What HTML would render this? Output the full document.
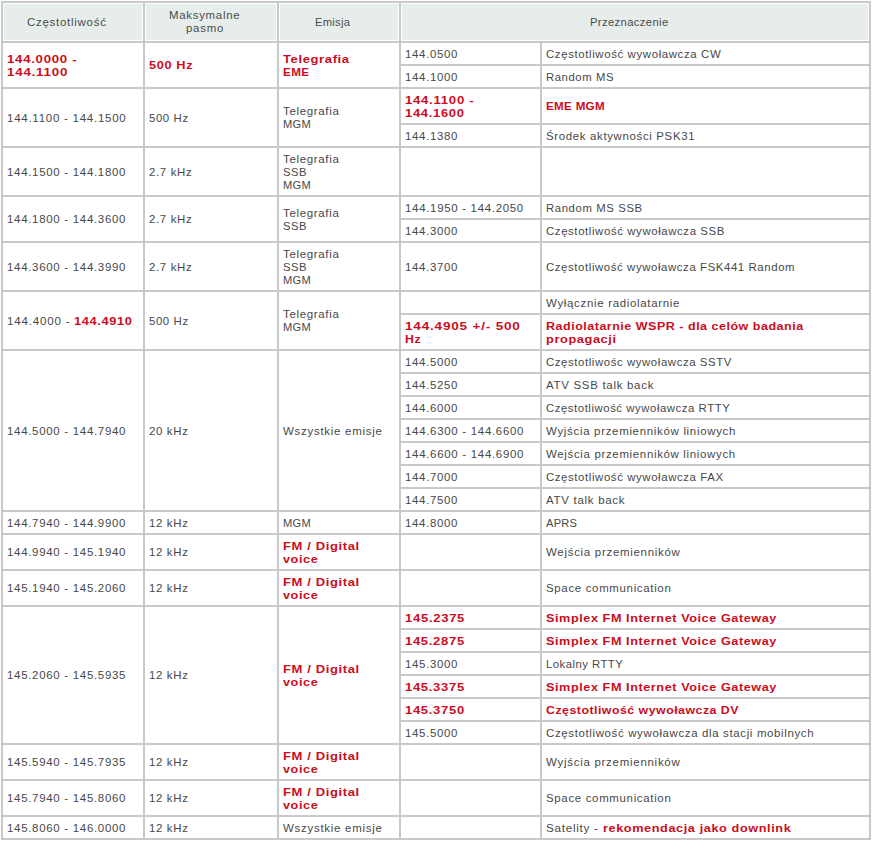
<!DOCTYPE html><html><head><meta charset="utf-8"><style>
html,body{margin:0;padding:0;background:#fff}
body{width:872px;height:841px;position:relative;overflow:hidden;font-family:"Liberation Sans",sans-serif;font-size:11px;line-height:13px;color:#484848}
.b{position:absolute;box-sizing:border-box;border:1px solid #c9c9c9}
.c{position:absolute;box-sizing:border-box;border:1px solid #c9c9c9;display:flex;flex-direction:column;justify-content:center;padding-left:4px}
.hd{position:absolute;box-sizing:border-box;border:1px solid #c9c9c9;background:#e6edeb;box-shadow:inset 0 0 0 1px #fff;display:flex;flex-direction:column;justify-content:center;align-items:center;padding-right:12px;color:#484d4d;font-size:11px}
.l{white-space:pre;height:13px;position:relative;top:0.5px}
.o{display:inline-block;white-space:pre}
.s{display:inline-block;transform-origin:0 0}
.r{color:#cc0c20;font-weight:bold;font-size:11px}
</style></head><body>
<div class="b" style="left:1px;top:1px;width:870px;height:839px"></div>

<div class="hd" style="left:2px;top:2px;width:142px;height:40px;padding-bottom:0px"><div class="l lc"><span class="o" style="width:79.69px"><span class="s" style="transform:scaleX(1.0462);letter-spacing:0.686px">Częstotliwość</span></span></div></div>
<div class="hd" style="left:144px;top:2px;width:134px;height:40px;padding-bottom:2px"><div class="l lc"><span class="o" style="width:71.29px"><span class="s" style="transform:scaleX(1.0386);letter-spacing:0.689px">Maksymalne</span></span></div><div class="l lc"><span class="o" style="width:38.01px"><span class="s" style="transform:scaleX(1.0377);letter-spacing:0.720px">pasmo</span></span></div></div>
<div class="hd" style="left:278px;top:2px;width:122px;height:40px;padding-bottom:0px"><div class="l lc"><span class="o" style="width:35.22px"><span class="s" style="transform:scaleX(1.0167);letter-spacing:0.271px">Emisja</span></span></div></div>
<div class="hd" style="left:400px;top:2px;width:470px;height:40px;padding-bottom:0px"><div class="l lc"><span class="o" style="width:78.55px"><span class="s" style="transform:scaleX(1.0222);letter-spacing:0.361px">Przeznaczenie</span></span></div></div>
<div class="c" style="left:2px;top:42px;width:142px;height:46px"><div class="l"><span class="o r" style="width:70.33px"><span class="s" style="transform:scaleX(1.2020);letter-spacing:0.590px">144.0000 -</span></span></div><div class="l"><span class="o r" style="width:61.11px"><span class="s" style="transform:scaleX(1.2097);letter-spacing:0.654px">144.1100</span></span></div></div>
<div class="c" style="left:144px;top:42px;width:134px;height:46px"><div class="l"><span class="o r" style="width:44.18px"><span class="s" style="transform:scaleX(1.1604);letter-spacing:0.536px">500 Hz</span></span></div></div>
<div class="c" style="left:278px;top:42px;width:122px;height:46px"><div class="l"><span class="o r" style="width:66.71px"><span class="s" style="transform:scaleX(1.1824);letter-spacing:0.526px">Telegrafia</span></span></div><div class="l"><span class="o r" style="width:26.36px"><span class="s" style="transform:scaleX(1.0634);letter-spacing:0.316px">EME</span></span></div></div>
<div class="c" style="left:400px;top:42px;width:141px;height:23px"><div class="l"><span class="o" style="width:53.17px"><span class="s" style="transform:scaleX(1.0396);letter-spacing:0.656px">144.0500</span></span></div></div>
<div class="c" style="left:541px;top:42px;width:329px;height:23px"><div class="l"><span class="o" style="width:175.29px"><span class="s" style="transform:scaleX(1.0368);letter-spacing:0.602px">Częstotliwość wywoławcza CW</span></span></div></div>
<div class="c" style="left:400px;top:65px;width:141px;height:23px"><div class="l"><span class="o" style="width:53.17px"><span class="s" style="transform:scaleX(1.0396);letter-spacing:0.656px">144.1000</span></span></div></div>
<div class="c" style="left:541px;top:65px;width:329px;height:23px"><div class="l"><span class="o" style="width:68.00px"><span class="s" style="transform:scaleX(1.0280);letter-spacing:0.556px">Random MS</span></span></div></div>
<div class="c" style="left:2px;top:88px;width:142px;height:59px"><div class="l"><span class="o" style="width:119.45px"><span class="s" style="transform:scaleX(1.0465);letter-spacing:0.707px">144.1100 - 144.1500</span></span></div></div>
<div class="c" style="left:144px;top:88px;width:134px;height:59px"><div class="l"><span class="o" style="width:39.69px"><span class="s" style="transform:scaleX(1.0346);letter-spacing:0.583px">500 Hz</span></span></div></div>
<div class="c" style="left:278px;top:88px;width:122px;height:59px"><div class="l"><span class="o" style="width:56.45px"><span class="s" style="transform:scaleX(1.0458);letter-spacing:0.627px">Telegrafia</span></span></div><div class="l"><span class="o" style="width:27.92px"><span class="s" style="transform:scaleX(1.0095);letter-spacing:0.254px">MGM</span></span></div></div>
<div class="c" style="left:400px;top:88px;width:141px;height:36px"><div class="l"><span class="o r" style="width:69.38px"><span class="s" style="transform:scaleX(1.2006);letter-spacing:0.579px">144.1100 -</span></span></div><div class="l"><span class="o r" style="width:59.67px"><span class="s" style="transform:scaleX(1.1801);letter-spacing:0.584px">144.1600</span></span></div></div>
<div class="c" style="left:541px;top:88px;width:329px;height:36px"><div class="l"><span class="o r" style="width:58.96px"><span class="s" style="transform:scaleX(1.0577);letter-spacing:0.280px">EME MGM</span></span></div></div>
<div class="c" style="left:400px;top:124px;width:141px;height:23px"><div class="l"><span class="o" style="width:53.17px"><span class="s" style="transform:scaleX(1.0396);letter-spacing:0.656px">144.1380</span></span></div></div>
<div class="c" style="left:541px;top:124px;width:329px;height:23px"><div class="l"><span class="o" style="width:149.23px"><span class="s" style="transform:scaleX(1.0392);letter-spacing:0.634px">Środek aktywności PSK31</span></span></div></div>
<div class="c" style="left:2px;top:147px;width:142px;height:49px"><div class="l"><span class="o" style="width:119.18px"><span class="s" style="transform:scaleX(1.0434);letter-spacing:0.667px">144.1500 - 144.1800</span></span></div></div>
<div class="c" style="left:144px;top:147px;width:134px;height:49px"><div class="l"><span class="o" style="width:43.37px"><span class="s" style="transform:scaleX(1.0407);letter-spacing:0.625px">2.7 kHz</span></span></div></div>
<div class="c" style="left:278px;top:147px;width:122px;height:49px"><div class="l"><span class="o" style="width:56.45px"><span class="s" style="transform:scaleX(1.0458);letter-spacing:0.627px">Telegrafia</span></span></div><div class="l"><span class="o" style="width:24.00px"><span class="s" style="transform:scaleX(1.0226);letter-spacing:0.486px">SSB</span></span></div><div class="l"><span class="o" style="width:27.92px"><span class="s" style="transform:scaleX(1.0095);letter-spacing:0.254px">MGM</span></span></div></div>
<div class="c" style="left:400px;top:147px;width:141px;height:49px"></div>
<div class="c" style="left:541px;top:147px;width:329px;height:49px"></div>
<div class="c" style="left:2px;top:196px;width:142px;height:46px"><div class="l"><span class="o" style="width:119.18px"><span class="s" style="transform:scaleX(1.0434);letter-spacing:0.667px">144.1800 - 144.3600</span></span></div></div>
<div class="c" style="left:144px;top:196px;width:134px;height:46px"><div class="l"><span class="o" style="width:43.37px"><span class="s" style="transform:scaleX(1.0407);letter-spacing:0.625px">2.7 kHz</span></span></div></div>
<div class="c" style="left:278px;top:196px;width:122px;height:46px"><div class="l"><span class="o" style="width:56.45px"><span class="s" style="transform:scaleX(1.0458);letter-spacing:0.627px">Telegrafia</span></span></div><div class="l"><span class="o" style="width:24.00px"><span class="s" style="transform:scaleX(1.0226);letter-spacing:0.486px">SSB</span></span></div></div>
<div class="c" style="left:400px;top:196px;width:141px;height:23px"><div class="l"><span class="o" style="width:118.91px"><span class="s" style="transform:scaleX(1.0427);letter-spacing:0.657px">144.1950 - 144.2050</span></span></div></div>
<div class="c" style="left:541px;top:196px;width:329px;height:23px"><div class="l"><span class="o" style="width:96.75px"><span class="s" style="transform:scaleX(1.0306);letter-spacing:0.590px">Random MS SSB</span></span></div></div>
<div class="c" style="left:400px;top:219px;width:141px;height:23px"><div class="l"><span class="o" style="width:53.17px"><span class="s" style="transform:scaleX(1.0396);letter-spacing:0.656px">144.3000</span></span></div></div>
<div class="c" style="left:541px;top:219px;width:329px;height:23px"><div class="l"><span class="o" style="width:178.98px"><span class="s" style="transform:scaleX(1.0359);letter-spacing:0.581px">Częstotliwość wywoławcza SSB</span></span></div></div>
<div class="c" style="left:2px;top:242px;width:142px;height:49px"><div class="l"><span class="o" style="width:119.18px"><span class="s" style="transform:scaleX(1.0434);letter-spacing:0.667px">144.3600 - 144.3990</span></span></div></div>
<div class="c" style="left:144px;top:242px;width:134px;height:49px"><div class="l"><span class="o" style="width:43.37px"><span class="s" style="transform:scaleX(1.0407);letter-spacing:0.625px">2.7 kHz</span></span></div></div>
<div class="c" style="left:278px;top:242px;width:122px;height:49px"><div class="l"><span class="o" style="width:56.45px"><span class="s" style="transform:scaleX(1.0458);letter-spacing:0.627px">Telegrafia</span></span></div><div class="l"><span class="o" style="width:24.00px"><span class="s" style="transform:scaleX(1.0226);letter-spacing:0.486px">SSB</span></span></div><div class="l"><span class="o" style="width:27.92px"><span class="s" style="transform:scaleX(1.0095);letter-spacing:0.254px">MGM</span></span></div></div>
<div class="c" style="left:400px;top:242px;width:141px;height:49px"><div class="l"><span class="o" style="width:53.17px"><span class="s" style="transform:scaleX(1.0396);letter-spacing:0.656px">144.3700</span></span></div></div>
<div class="c" style="left:541px;top:242px;width:329px;height:49px"><div class="l"><span class="o" style="width:249.20px"><span class="s" style="transform:scaleX(1.0346);letter-spacing:0.578px">Częstotliwość wywoławcza FSK441 Random</span></span></div></div>
<div class="c" style="left:2px;top:291px;width:142px;height:59px"><div class="l"><span class="o" style="width:67.45px"><span class="s" style="transform:scaleX(1.0530);letter-spacing:0.763px">144.4000 - </span></span><span class="o r" style="width:58.67px"><span class="s" style="transform:scaleX(1.1670);letter-spacing:0.547px">144.4910</span></span></div></div>
<div class="c" style="left:144px;top:291px;width:134px;height:59px"><div class="l"><span class="o" style="width:39.69px"><span class="s" style="transform:scaleX(1.0346);letter-spacing:0.583px">500 Hz</span></span></div></div>
<div class="c" style="left:278px;top:291px;width:122px;height:59px"><div class="l"><span class="o" style="width:56.45px"><span class="s" style="transform:scaleX(1.0458);letter-spacing:0.627px">Telegrafia</span></span></div><div class="l"><span class="o" style="width:27.92px"><span class="s" style="transform:scaleX(1.0095);letter-spacing:0.254px">MGM</span></span></div></div>
<div class="c" style="left:400px;top:291px;width:141px;height:23px"></div>
<div class="c" style="left:541px;top:291px;width:329px;height:23px"><div class="l"><span class="o" style="width:134.08px"><span class="s" style="transform:scaleX(1.0450);letter-spacing:0.638px">Wyłącznie radiolatarnie</span></span></div></div>
<div class="c" style="left:400px;top:314px;width:141px;height:36px"><div class="l"><span class="o r" style="width:115.66px"><span class="s" style="transform:scaleX(1.2311);letter-spacing:0.653px">144.4905 +/- 500</span></span></div><div class="l"><span class="o r" style="width:16.07px"><span class="s" style="transform:scaleX(1.1165);letter-spacing:0.468px">Hz</span></span></div></div>
<div class="c" style="left:541px;top:314px;width:329px;height:36px"><div class="l"><span class="o r" style="width:257.64px"><span class="s" style="transform:scaleX(1.1373);letter-spacing:0.444px">Radiolatarnie WSPR - dla celów badania</span></span></div><div class="l"><span class="o r" style="width:70.61px"><span class="s" style="transform:scaleX(1.1616);letter-spacing:0.516px">propagacji</span></span></div></div>
<div class="c" style="left:2px;top:350px;width:142px;height:161px"><div class="l"><span class="o" style="width:119.18px"><span class="s" style="transform:scaleX(1.0434);letter-spacing:0.667px">144.5000 - 144.7940</span></span></div></div>
<div class="c" style="left:144px;top:350px;width:134px;height:161px"><div class="l"><span class="o" style="width:39.55px"><span class="s" style="transform:scaleX(1.0387);letter-spacing:0.637px">20 kHz</span></span></div></div>
<div class="c" style="left:278px;top:350px;width:122px;height:161px"><div class="l"><span class="o" style="width:99.67px"><span class="s" style="transform:scaleX(1.0454);letter-spacing:0.687px">Wszystkie emisje</span></span></div></div>
<div class="c" style="left:400px;top:350px;width:141px;height:23px"><div class="l"><span class="o" style="width:53.17px"><span class="s" style="transform:scaleX(1.0396);letter-spacing:0.656px">144.5000</span></span></div></div>
<div class="c" style="left:541px;top:350px;width:329px;height:23px"><div class="l"><span class="o" style="width:185.96px"><span class="s" style="transform:scaleX(1.0348);letter-spacing:0.568px">Częstotliwośc wywoławcza SSTV</span></span></div></div>
<div class="c" style="left:400px;top:373px;width:141px;height:23px"><div class="l"><span class="o" style="width:53.17px"><span class="s" style="transform:scaleX(1.0396);letter-spacing:0.656px">144.5250</span></span></div></div>
<div class="c" style="left:541px;top:373px;width:329px;height:23px"><div class="l"><span class="o" style="width:108.10px"><span class="s" style="transform:scaleX(1.0434);letter-spacing:0.676px">ATV SSB talk back</span></span></div></div>
<div class="c" style="left:400px;top:396px;width:141px;height:23px"><div class="l"><span class="o" style="width:53.17px"><span class="s" style="transform:scaleX(1.0396);letter-spacing:0.656px">144.6000</span></span></div></div>
<div class="c" style="left:541px;top:396px;width:329px;height:23px"><div class="l"><span class="o" style="width:184.29px"><span class="s" style="transform:scaleX(1.0326);letter-spacing:0.533px">Częstotliwość wywoławcza RTTY</span></span></div></div>
<div class="c" style="left:400px;top:419px;width:141px;height:23px"><div class="l"><span class="o" style="width:119.18px"><span class="s" style="transform:scaleX(1.0434);letter-spacing:0.667px">144.6300 - 144.6600</span></span></div></div>
<div class="c" style="left:541px;top:419px;width:329px;height:23px"><div class="l"><span class="o" style="width:190.10px"><span class="s" style="transform:scaleX(1.0435);letter-spacing:0.654px">Wyjścia przemienników liniowych</span></span></div></div>
<div class="c" style="left:400px;top:442px;width:141px;height:23px"><div class="l"><span class="o" style="width:119.18px"><span class="s" style="transform:scaleX(1.0434);letter-spacing:0.667px">144.6600 - 144.6900</span></span></div></div>
<div class="c" style="left:541px;top:442px;width:329px;height:23px"><div class="l"><span class="o" style="width:189.88px"><span class="s" style="transform:scaleX(1.0423);letter-spacing:0.637px">Wejścia przemienników liniowych</span></span></div></div>
<div class="c" style="left:400px;top:465px;width:141px;height:23px"><div class="l"><span class="o" style="width:53.17px"><span class="s" style="transform:scaleX(1.0396);letter-spacing:0.656px">144.7000</span></span></div></div>
<div class="c" style="left:541px;top:465px;width:329px;height:23px"><div class="l"><span class="o" style="width:177.58px"><span class="s" style="transform:scaleX(1.0359);letter-spacing:0.577px">Częstotliwość wywoławcza FAX</span></span></div></div>
<div class="c" style="left:400px;top:488px;width:141px;height:23px"><div class="l"><span class="o" style="width:53.17px"><span class="s" style="transform:scaleX(1.0396);letter-spacing:0.656px">144.7500</span></span></div></div>
<div class="c" style="left:541px;top:488px;width:329px;height:23px"><div class="l"><span class="o" style="width:79.27px"><span class="s" style="transform:scaleX(1.0456);letter-spacing:0.674px">ATV talk back</span></span></div></div>
<div class="c" style="left:2px;top:511px;width:142px;height:23px"><div class="l"><span class="o" style="width:119.18px"><span class="s" style="transform:scaleX(1.0434);letter-spacing:0.667px">144.7940 - 144.9900</span></span></div></div>
<div class="c" style="left:144px;top:511px;width:134px;height:23px"><div class="l"><span class="o" style="width:39.55px"><span class="s" style="transform:scaleX(1.0387);letter-spacing:0.637px">12 kHz</span></span></div></div>
<div class="c" style="left:278px;top:511px;width:122px;height:23px"><div class="l"><span class="o" style="width:27.92px"><span class="s" style="transform:scaleX(1.0095);letter-spacing:0.254px">MGM</span></span></div></div>
<div class="c" style="left:400px;top:511px;width:141px;height:23px"><div class="l"><span class="o" style="width:53.17px"><span class="s" style="transform:scaleX(1.0396);letter-spacing:0.656px">144.8000</span></span></div></div>
<div class="c" style="left:541px;top:511px;width:329px;height:23px"><div class="l"><span class="o" style="width:31.16px"><span class="s" style="transform:scaleX(1.0099);letter-spacing:0.220px">APRS</span></span></div></div>
<div class="c" style="left:2px;top:534px;width:142px;height:36px"><div class="l"><span class="o" style="width:119.18px"><span class="s" style="transform:scaleX(1.0434);letter-spacing:0.667px">144.9940 - 145.1940</span></span></div></div>
<div class="c" style="left:144px;top:534px;width:134px;height:36px"><div class="l"><span class="o" style="width:39.55px"><span class="s" style="transform:scaleX(1.0387);letter-spacing:0.637px">12 kHz</span></span></div></div>
<div class="c" style="left:278px;top:534px;width:122px;height:36px"><div class="l"><span class="o r" style="width:76.71px"><span class="s" style="transform:scaleX(1.1845);letter-spacing:0.508px">FM / Digital</span></span></div><div class="l"><span class="o r" style="width:35.27px"><span class="s" style="transform:scaleX(1.1519);letter-spacing:0.495px">voice</span></span></div></div>
<div class="c" style="left:400px;top:534px;width:141px;height:36px"></div>
<div class="c" style="left:541px;top:534px;width:329px;height:36px"><div class="l"><span class="o" style="width:134.60px"><span class="s" style="transform:scaleX(1.0433);letter-spacing:0.680px">Wejścia przemienników</span></span></div></div>
<div class="c" style="left:2px;top:570px;width:142px;height:36px"><div class="l"><span class="o" style="width:119.18px"><span class="s" style="transform:scaleX(1.0434);letter-spacing:0.667px">145.1940 - 145.2060</span></span></div></div>
<div class="c" style="left:144px;top:570px;width:134px;height:36px"><div class="l"><span class="o" style="width:39.55px"><span class="s" style="transform:scaleX(1.0387);letter-spacing:0.637px">12 kHz</span></span></div></div>
<div class="c" style="left:278px;top:570px;width:122px;height:36px"><div class="l"><span class="o r" style="width:76.71px"><span class="s" style="transform:scaleX(1.1845);letter-spacing:0.508px">FM / Digital</span></span></div><div class="l"><span class="o r" style="width:35.27px"><span class="s" style="transform:scaleX(1.1519);letter-spacing:0.495px">voice</span></span></div></div>
<div class="c" style="left:400px;top:570px;width:141px;height:36px"></div>
<div class="c" style="left:541px;top:570px;width:329px;height:36px"><div class="l"><span class="o" style="width:125.48px"><span class="s" style="transform:scaleX(1.0398);letter-spacing:0.654px">Space communication</span></span></div></div>
<div class="c" style="left:2px;top:606px;width:142px;height:138px"><div class="l"><span class="o" style="width:119.18px"><span class="s" style="transform:scaleX(1.0434);letter-spacing:0.667px">145.2060 - 145.5935</span></span></div></div>
<div class="c" style="left:144px;top:606px;width:134px;height:138px"><div class="l"><span class="o" style="width:39.55px"><span class="s" style="transform:scaleX(1.0387);letter-spacing:0.637px">12 kHz</span></span></div></div>
<div class="c" style="left:278px;top:606px;width:122px;height:138px"><div class="l"><span class="o r" style="width:76.71px"><span class="s" style="transform:scaleX(1.1845);letter-spacing:0.508px">FM / Digital</span></span></div><div class="l"><span class="o r" style="width:35.27px"><span class="s" style="transform:scaleX(1.1519);letter-spacing:0.495px">voice</span></span></div></div>
<div class="c" style="left:400px;top:606px;width:141px;height:23px"><div class="l"><span class="o r" style="width:60.08px"><span class="s" style="transform:scaleX(1.1855);letter-spacing:0.598px">145.2375</span></span></div></div>
<div class="c" style="left:541px;top:606px;width:329px;height:23px"><div class="l"><span class="o r" style="width:230.92px"><span class="s" style="transform:scaleX(1.1513);letter-spacing:0.490px">Simplex FM Internet Voice Gateway</span></span></div></div>
<div class="c" style="left:400px;top:629px;width:141px;height:23px"><div class="l"><span class="o r" style="width:59.88px"><span class="s" style="transform:scaleX(1.1829);letter-spacing:0.591px">145.2875</span></span></div></div>
<div class="c" style="left:541px;top:629px;width:329px;height:23px"><div class="l"><span class="o r" style="width:230.92px"><span class="s" style="transform:scaleX(1.1513);letter-spacing:0.490px">Simplex FM Internet Voice Gateway</span></span></div></div>
<div class="c" style="left:400px;top:652px;width:141px;height:23px"><div class="l"><span class="o" style="width:53.17px"><span class="s" style="transform:scaleX(1.0396);letter-spacing:0.656px">145.3000</span></span></div></div>
<div class="c" style="left:541px;top:652px;width:329px;height:23px"><div class="l"><span class="o" style="width:77.20px"><span class="s" style="transform:scaleX(1.0277);letter-spacing:0.468px">Lokalny RTTY</span></span></div></div>
<div class="c" style="left:400px;top:675px;width:141px;height:23px"><div class="l"><span class="o r" style="width:59.88px"><span class="s" style="transform:scaleX(1.1829);letter-spacing:0.591px">145.3375</span></span></div></div>
<div class="c" style="left:541px;top:675px;width:329px;height:23px"><div class="l"><span class="o r" style="width:230.92px"><span class="s" style="transform:scaleX(1.1513);letter-spacing:0.490px">Simplex FM Internet Voice Gateway</span></span></div></div>
<div class="c" style="left:400px;top:698px;width:141px;height:23px"><div class="l"><span class="o r" style="width:59.88px"><span class="s" style="transform:scaleX(1.1829);letter-spacing:0.591px">145.3750</span></span></div></div>
<div class="c" style="left:541px;top:698px;width:329px;height:23px"><div class="l"><span class="o r" style="width:192.98px"><span class="s" style="transform:scaleX(1.1230);letter-spacing:0.433px">Częstotliwość wywoławcza DV</span></span></div></div>
<div class="c" style="left:400px;top:721px;width:141px;height:23px"><div class="l"><span class="o" style="width:53.17px"><span class="s" style="transform:scaleX(1.0396);letter-spacing:0.656px">145.5000</span></span></div></div>
<div class="c" style="left:541px;top:721px;width:329px;height:23px"><div class="l"><span class="o" style="width:268.23px"><span class="s" style="transform:scaleX(1.0417);letter-spacing:0.614px">Częstotliwość wywoławcza dla stacji mobilnych</span></span></div></div>
<div class="c" style="left:2px;top:744px;width:142px;height:36px"><div class="l"><span class="o" style="width:119.18px"><span class="s" style="transform:scaleX(1.0434);letter-spacing:0.667px">145.5940 - 145.7935</span></span></div></div>
<div class="c" style="left:144px;top:744px;width:134px;height:36px"><div class="l"><span class="o" style="width:39.55px"><span class="s" style="transform:scaleX(1.0387);letter-spacing:0.637px">12 kHz</span></span></div></div>
<div class="c" style="left:278px;top:744px;width:122px;height:36px"><div class="l"><span class="o r" style="width:76.71px"><span class="s" style="transform:scaleX(1.1845);letter-spacing:0.508px">FM / Digital</span></span></div><div class="l"><span class="o r" style="width:35.27px"><span class="s" style="transform:scaleX(1.1519);letter-spacing:0.495px">voice</span></span></div></div>
<div class="c" style="left:400px;top:744px;width:141px;height:36px"></div>
<div class="c" style="left:541px;top:744px;width:329px;height:36px"><div class="l"><span class="o" style="width:134.50px"><span class="s" style="transform:scaleX(1.0444);letter-spacing:0.693px">Wyjścia przemienników</span></span></div></div>
<div class="c" style="left:2px;top:780px;width:142px;height:36px"><div class="l"><span class="o" style="width:119.18px"><span class="s" style="transform:scaleX(1.0434);letter-spacing:0.667px">145.7940 - 145.8060</span></span></div></div>
<div class="c" style="left:144px;top:780px;width:134px;height:36px"><div class="l"><span class="o" style="width:39.55px"><span class="s" style="transform:scaleX(1.0387);letter-spacing:0.637px">12 kHz</span></span></div></div>
<div class="c" style="left:278px;top:780px;width:122px;height:36px"><div class="l"><span class="o r" style="width:76.71px"><span class="s" style="transform:scaleX(1.1845);letter-spacing:0.508px">FM / Digital</span></span></div><div class="l"><span class="o r" style="width:35.27px"><span class="s" style="transform:scaleX(1.1519);letter-spacing:0.495px">voice</span></span></div></div>
<div class="c" style="left:400px;top:780px;width:141px;height:36px"></div>
<div class="c" style="left:541px;top:780px;width:329px;height:36px"><div class="l"><span class="o" style="width:125.48px"><span class="s" style="transform:scaleX(1.0398);letter-spacing:0.654px">Space communication</span></span></div></div>
<div class="c" style="left:2px;top:816px;width:142px;height:23px"><div class="l"><span class="o" style="width:119.18px"><span class="s" style="transform:scaleX(1.0434);letter-spacing:0.667px">145.8060 - 146.0000</span></span></div></div>
<div class="c" style="left:144px;top:816px;width:134px;height:23px"><div class="l"><span class="o" style="width:39.55px"><span class="s" style="transform:scaleX(1.0387);letter-spacing:0.637px">12 kHz</span></span></div></div>
<div class="c" style="left:278px;top:816px;width:122px;height:23px"><div class="l"><span class="o" style="width:99.67px"><span class="s" style="transform:scaleX(1.0454);letter-spacing:0.687px">Wszystkie emisje</span></span></div></div>
<div class="c" style="left:400px;top:816px;width:141px;height:23px"></div>
<div class="c" style="left:541px;top:816px;width:329px;height:23px"><div class="l"><span class="o" style="width:56.60px"><span class="s" style="transform:scaleX(1.0585);letter-spacing:0.692px">Satelity - </span></span><span class="o r" style="width:188.33px"><span class="s" style="transform:scaleX(1.1544);letter-spacing:0.514px">rekomendacja jako downlink</span></span></div></div>
</body></html>
